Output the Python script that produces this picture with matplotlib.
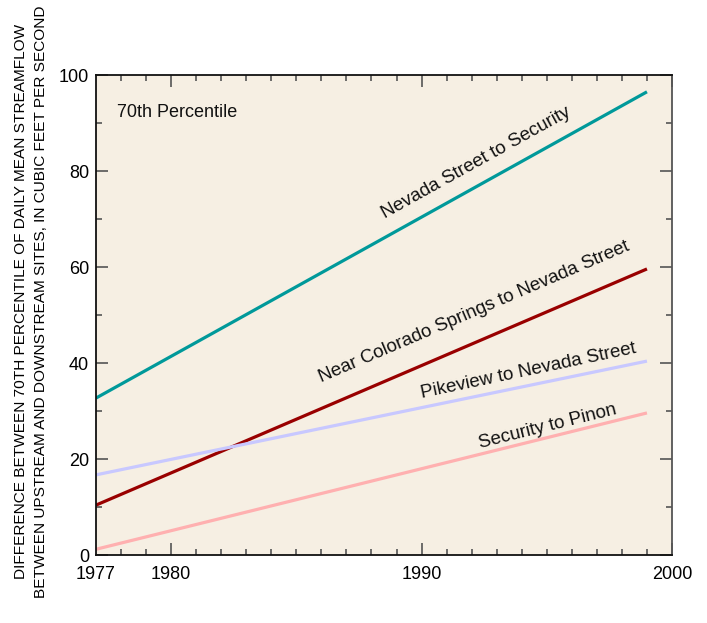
import matplotlib.pyplot as plt
import numpy as np
from matplotlib.ticker import MultipleLocator

plt.rcParams['font.family'] = ['Liberation Sans', 'DejaVu Sans']

# Data: linear trends, start 1977 and end 1999
years = [1977, 1999]
nevada_security = [32.7, 96.5]
colorado_nevada = [10.4, 59.6]
pikeview_nevada = [16.7, 40.4]
security_pinon = [1.2, 29.6]

series = [
    ('Nevada Street to Security', nevada_security, '#00999a', 1992.2, 81.6, 29.0),
    ('Near Colorado Springs to Nevada Street', colorado_nevada, '#990000', 1992.1, 50.7, 23.2),
    ('Pikeview to Nevada Street', pikeview_nevada, '#c8c8ff', 1994.25, 38.4, 11.9),
    ('Security to Pinon', security_pinon, '#ffb0b0', 1995.05, 26.7, 14.0),
]

fig = plt.figure(figsize=(7.07, 6.23), dpi=100)
ax = fig.add_axes([0.1358, 0.1091, 0.8147, 0.7705])
ax.set_facecolor('#f6efe3')

for name, vals, color, tx, ty, rot in series:
    ax.plot(years, vals, color=color, linewidth=2.3, solid_capstyle='butt')
    ax.text(tx, ty, name, rotation=rot, rotation_mode='anchor',
            ha='center', va='center', fontsize=13.5, color='#111111')

ax.text(1977.85, 92.1, '70th Percentile', fontsize=13, ha='left', va='center', color='#111111')

ax.set_xlim(1977, 2000)
ax.set_ylim(0, 100)
ax.set_xticks([1977, 1980, 1990, 2000])
ax.xaxis.set_minor_locator(MultipleLocator(1))
ax.set_yticks([0, 20, 40, 60, 80, 100])
ax.yaxis.set_minor_locator(MultipleLocator(10))
ax.tick_params(which='both', direction='in', top=True, right=True, labelsize=13, color='#555555')
ax.tick_params(which='major', length=8.5, width=1.2)
ax.tick_params(which='minor', length=4.5, width=1.2)
ax.tick_params(axis='x', pad=8)
ax.tick_params(axis='y', pad=5)
# 1977 tick only as label
ax.xaxis.get_major_ticks()[0].tick1line.set_visible(False)
ax.xaxis.get_major_ticks()[0].tick2line.set_visible(False)

for s in ['left', 'bottom', 'top']:
    ax.spines[s].set_color('#111111')
    ax.spines[s].set_linewidth(1.3)
ax.spines['right'].set_color('#555555')
ax.spines['right'].set_linewidth(1.3)

ax.set_ylabel('DIFFERENCE BETWEEN 70TH PERCENTILE OF DAILY MEAN STREAMFLOW\n'
              'BETWEEN UPSTREAM AND DOWNSTREAM SITES, IN CUBIC FEET PER SECOND',
              fontsize=11.1, linespacing=1.55, va='center')
ax.yaxis.set_label_coords(-0.113, 0.528)

fig.savefig('out.png', dpi=100)
